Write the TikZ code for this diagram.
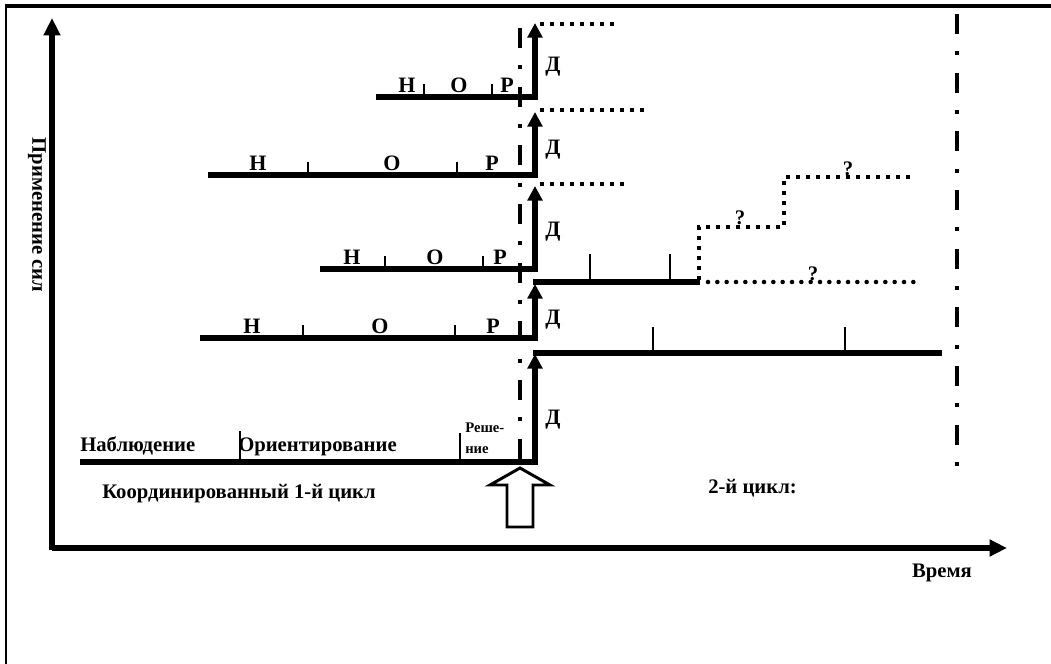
\documentclass[tikz,border=0pt]{standalone}
\usepackage{fontspec}
\setmainfont{Liberation Serif}
\usetikzlibrary{arrows.meta,positioning}

\tikzset{
  axis/.style={line width=4pt,-{Triangle[length=13pt,width=12pt]}},
  stepline/.style={line width=3.8pt,line join=miter,-{Triangle[length=11pt,width=11pt]}},
  level/.style={line width=3.8pt},
  tick/.style={line width=1.5pt},
  cutline/.style={line width=3.2pt,dash pattern=on 15pt off 13pt on 3pt off 13pt},
  sqdots/.style={line width=3.4pt,dash pattern=on 3pt off 4.5pt},
  rddots/.style={line width=3.4pt,line cap=round,dash pattern=on 0pt off 7pt},
  lbl/.style={font=\fontsize{15.5}{17}\selectfont\bfseries,inner sep=0pt},
  rowlbl/.style={font=\fontsize{16.5}{18}\selectfont\bfseries,inner sep=0pt},
  smalllbl/.style={font=\fontsize{11}{12}\selectfont\bfseries,inner sep=0pt,anchor=base west},
}

\begin{document}
\begin{tikzpicture}[x=0.75pt,y=-0.75pt]
    \useasboundingbox (0,0) rectangle (1051,664);

    % Frame
    \draw[line width=2.2pt] (6,664) -- (6,6.5);
    \draw[line width=3pt] (5,6) -- (1051,6);

    % Axes
    \coordinate (O) at (52,548);
    \coordinate (ytop) at (52,18);
    \coordinate (xend) at (1007,548);
    \draw[axis] ([yshift=-1.5pt]O) -- (ytop);
    \draw[axis] (O) -- (xend);
    \node[lbl,rotate=-90] (force) at (37,215) {Применение сил};
    \node[lbl,anchor=base] (time) at (942,577) {Время};

    % Decision lines
    \draw[cutline] (520,28) -- (520,464);
    \draw[cutline] (957,14) -- (957,482);

    % First cycle
    \draw[stepline] (80,462) -- (535,462) -- (535,354);
    \draw[tick] (240,462) -- (240,431);
    \draw[tick] (460,462) -- (460,433);
    \node[lbl,anchor=base west] (obs) at (80,451) {Наблюдение};
    \node[lbl,anchor=base west] (ori) at (238,451) {Ориентирование};
    \node[smalllbl] (dec1) at (465,432) {Реше-};
    \node[smalllbl] (dec2) at (465,453) {ние};
    \node[rowlbl,anchor=west] (act0) at (545,420) {Д};
    \node[lbl,anchor=base west] (cyc1) at (102,498) {Координированный 1-й цикл};
    \node[lbl,anchor=base west] (cyc2) at (708,493) {2-й цикл:};

    % Hollow arrow under the decision point
    \draw[line width=2.2pt,line join=miter]
        (520,468) -- (550,485) -- (533,485) -- (533,527)
        -- (507,527) -- (507,485) -- (490,485) -- cycle;

    % Level reached after the first cycle
    \draw[level] (533,353) -- (942,353);
    \draw[tick] (653,353) -- (653,327);
    \draw[tick] (845,353) -- (845,327);

    % Nested cycles: y / start / ticks / labels / arrow top / label of action
    \foreach \i/\y/\xs/\ta/\tb/\hx/\ox/\px/\top/\dy in {
        1/338/200/303/455/252/380/493/284/320,
        2/269/320/385/483/352/435/500/186/232,
        3/175/208/308/457/258/392/492/112/150,
        4/97/376/424/492/407/459/507/23/67} {
        \draw[stepline] (\xs,\y) -- (535,\y) -- (535,\top);
        \draw[tick] (\ta,\y) -- (\ta,\y-13);
        \draw[tick] (\tb,\y) -- (\tb,\y-13);
        \node[rowlbl,anchor=base] (H\i) at (\hx,\y-5) {Н};
        \node[rowlbl,anchor=base] (O\i) at (\ox,\y-5) {О};
        \node[rowlbl,anchor=base] (P\i) at (\px,\y-5) {Р};
        \node[rowlbl,anchor=west] (act\i) at (545,\dy) {Д};
    }

    % Level after the second step and its possible continuations
    \draw[level] (533,282) -- (700,282);
    \draw[tick] (590,282) -- (590,254);
    \draw[tick] (670,282) -- (670,254);
    \draw[rddots] (708,282) -- (915,282);
    \draw[sqdots] (699,280) -- (699,227) -- (784,227) -- (784,177) -- (912,177);
    \node[lbl,anchor=base] (q1) at (740,224) {?};
    \node[lbl,anchor=base] (q2) at (848,175) {?};
    \node[lbl,anchor=base] (q3) at (813,280) {?};

    % Unfinished levels
    \draw[sqdots] (540,184) -- (625,184);
    \draw[sqdots] (540,110) -- (648,110);
    \draw[sqdots] (540,24) -- (620,24);
\end{tikzpicture}
\end{document}
